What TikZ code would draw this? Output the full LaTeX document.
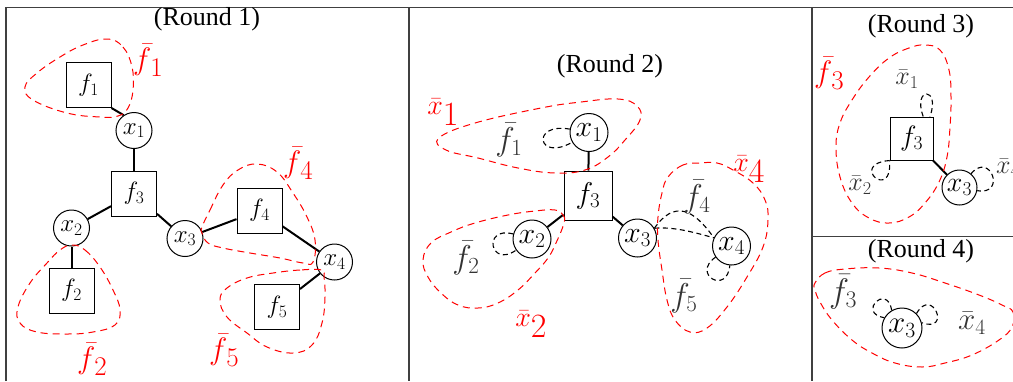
\RequirePackage{fix-cm}
\documentclass[tikz,border=0pt]{standalone}
\usepackage[no-math]{fontspec}
\setmainfont{Liberation Serif}
\newcommand\fs[1]{\fontsize{#1}{#1}\selectfont}
% red group labels: bar symbol with an oversized index
\newcommand\rf[1]{{\fs{31}$\bar{f}$}\kern-1pt\raisebox{-7pt}{\fs{27}$#1$}}
\newcommand\rx[1]{{\fs{28}$\bar{x}$}\raisebox{-11pt}{\fs{34}$#1$}}
\begin{document}
\begin{tikzpicture}[x=1pt,y=1pt,
  fac/.style={draw, line width=1pt, minimum width=45pt, minimum height=45pt, inner sep=0pt},
  var/.style={draw, circle, line width=1pt, minimum size=36pt, inner sep=0pt},
  link/.style={line width=2pt},
  grp/.style={draw=red, line width=1pt, dash pattern=on 7pt off 5pt},
  ghost/.style={draw=black, line width=1.1pt, dash pattern=on 5pt off 3.5pt},
  rlab/.style={text=red, inner sep=0pt},
  blab/.style={text=black!80, inner sep=0pt},
  ttl/.style={inner sep=0pt, font=\fs{26}},
  frame/.style={draw=black!75, line width=1.3pt},
  blob/.style={smooth cycle, tension=0.7}]

\useasboundingbox (0,0) rectangle (1013,-381);

% panel frames
\draw[frame] (6,-381) -- (6,-7.5) -- (1013,-7.5);
\draw[frame] (409,-7.5) -- (409,-381);
\draw[frame] (812,-7.5) -- (812,-381);
\draw[frame] (812,-236.7) -- (1013,-236.7);

% ---------------- Round 1 ----------------
\node[ttl] (t1) at (207,-19) {(Round 1)};
\begin{scope}[every node/.append style={font=\fs{25}}]
\node[fac] (f1) at (88.5,-85) {$f_1$};
\node[var] (x1) at (134,-130.5) {$x_1$};
\node[fac] (f3) at (134,-193.5) {$f_3$};
\node[var] (x2) at (71.5,-228) {$x_2$};
\node[fac] (f2) at (71.5,-290.5) {$f_2$};
\node[var] (x3) at (185,-238.5) {$x_3$};
\node[fac] (f4) at (259.5,-210.5) {$f_4$};
\node[var] (x4) at (334.5,-262) {$x_4$};
\node[fac] (f5) at (277,-307) {$f_5$};
\end{scope}
\draw[link] (f1.south east) -- (x1.124);
\draw[link] (x1) -- (f3);
\draw[link] (f3) -- (x2);
\draw[link] (x2) -- (f2);
\draw[link] (f3) -- (x3);
\draw[link] (x3) -- (f4);
\draw[link] (f4) -- (x4);
\draw[link] (x4) -- (f5);

\draw[grp] plot[blob] coordinates {(107,-39) (123,-47) (132,-67) (133,-90) (128,-108) (118,-116) (100,-117) (67,-113) (33,-100) (25,-87) (37,-73) (60,-57) (83,-45)};
\draw[grp] plot[blob] coordinates {(72,-245) (85,-250) (100,-267) (113,-290) (120,-310) (115,-325) (93,-332) (67,-334) (37,-332) (20,-323) (18,-307) (30,-283) (47,-263) (60,-250)};
\draw[grp] plot[blob] coordinates {(202,-227) (210,-210) (223,-185) (238,-170) (257,-164) (277,-172) (293,-193) (307,-217) (315,-240) (313,-262) (303,-263) (280,-258) (250,-253) (223,-248) (208,-243) (202,-233)};
\draw[grp] plot[blob] coordinates {(322,-270) (300,-270) (273,-273) (247,-278) (227,-288) (220,-300) (227,-317) (247,-333) (267,-347) (293,-353) (312,-345) (322,-323) (325,-297) (324,-277)};

\node[rlab] (g1) at (148,-60) {\rf{1}};
\node[rlab] (g2) at (92,-359) {\rf{2}};
\node[rlab] (g4) at (298,-163) {\rf{4}};
\node[rlab] (g5) at (224,-350) {\rf{5}};

% ---------------- Round 2 ----------------
\node[ttl] (t2) at (610,-66) {(Round 2)};
\begin{scope}[every node/.append style={font=\fs{30}}]
\node[var, minimum size=38pt] (y1) at (589,-132.5) {$x_1$};
\node[fac, minimum width=48pt, minimum height=49pt] (h3) at (588,-195.5) {$f_3$};
\node[var, minimum size=38pt] (y2) at (532,-239) {$x_2$};
\node[var, minimum size=38pt] (y3) at (637.5,-238) {$x_3$};
\node[var, minimum size=38pt] (y4) at (731.5,-246) {$x_4$};
\end{scope}
\draw[link] (y1) -- (h3);
\draw[link] (h3) -- (y2);
\draw[link] (h3) -- (y3);

\draw[ghost] (y1) to[out=170,in=210,distance=40pt] (y1);
\draw[ghost] (y2) to[out=165,in=215,distance=32pt] (y2);
\draw[ghost] (y3.30) to[out=55,in=125,distance=35pt] (y4.155);
\draw[ghost] (y3.30) to[out=5,in=165,distance=20pt] (y4.155);
\draw[ghost] (y4) to[out=215,in=265,distance=30pt] (y4);

\draw[grp] plot[blob] coordinates {(439,-138) (475,-123) (541,-108) (581,-102) (618,-99) (637,-106) (640,-120) (625,-140) (608,-157) (585,-170) (555,-173) (518,-168) (478,-158) (446,-150)};
\draw[grp] plot[blob] coordinates {(555,-210) (563,-215) (564,-223) (556,-243) (548,-258) (535,-273) (518,-290) (498,-303) (478,-308) (458,-305) (441,-293) (428,-277) (423,-260) (431,-243) (451,-232) (475,-223) (508,-215) (535,-211)};
\draw[grp] plot[blob] coordinates {(700,-163) (683,-165) (668,-177) (662,-193) (658,-217) (658,-240) (662,-270) (667,-300) (675,-320) (690,-332) (707,-328) (727,-307) (747,-277) (763,-247) (768,-220) (765,-200) (753,-183) (733,-170) (717,-163)};

\node[rlab] (r1) at (443,-112) {\rx{1}};
\node[rlab] (r2) at (531,-324) {\rx{2}};
\node[rlab] (r4) at (749,-169) {\rx{4}};
\begin{scope}[every node/.append style={font=\fs{33}}]
\node[blab] (b1) at (509,-140) {$\bar{f}_1$};
\node[blab] (b2) at (466,-258) {$\bar{f}_2$};
\node[blab] (b4) at (697,-197) {$\bar{f}_4$};
\node[blab] (b5) at (684,-296) {$\bar{f}_5$};
\end{scope}

% ---------------- Round 3 ----------------
\node[ttl] (t3) at (921,-26.5) {(Round 3)};
\begin{scope}[every node/.append style={font=\fs{28}}]
\node[fac, minimum width=43pt, minimum height=43pt] (k3) at (911.5,-138.5) {$f_3$};
\node[var, minimum size=35pt] (z3) at (959.5,-187.5) {$x_3$};
\end{scope}
\draw[link] (k3) -- (z3);
\draw[ghost] (k3.62) to[out=110,in=70,distance=32pt] (k3.50);
\draw[ghost] (k3.south west) to[out=185,in=275,distance=42pt] (k3.south west);
\draw[ghost] (z3) to[out=50,in=-10,distance=30pt] (z3);

\draw[grp] plot[blob] coordinates {(925,-45) (909,-48) (889,-58) (869,-77) (852,-100) (840,-123) (836,-147) (840,-177) (852,-203) (869,-218) (889,-223) (909,-217) (925,-203) (939,-182) (947,-157) (950,-127) (951,-97) (949,-70) (940,-50)};

\node[rlab] (r3) at (829,-73) {\rf{3}};
\begin{scope}[every node/.append style={font=\fs{26}}]
\node[blab] (c1) at (907,-79) {$\bar{x}_1$};
\node[blab] (c2) at (860,-185) {$\bar{x}_2$};
\node[blab, anchor=base west] (c4) at (996,-173) {$\bar{x}_4$};
\end{scope}

% ---------------- Round 4 ----------------
\node[ttl] (t4) at (921,-251) {(Round 4)};
\node[var, minimum size=40pt, font=\fs{31}] (w3) at (902,-328) {$x_3$};
\draw[ghost] (w3.120) to[out=100,in=170,distance=28pt] (w3.150);
\draw[ghost] (w3.45) to[out=60,in=-20,distance=32pt] (w3.15);

\draw[grp] plot[blob] coordinates {(815,-283) (825,-273) (845,-269) (879,-268) (912,-273) (945,-283) (979,-295) (1002,-305) (1013,-312) (1012,-327) (999,-340) (972,-355) (945,-363) (922,-367) (895,-363) (872,-353) (852,-340) (832,-320) (820,-302) (815,-290)};

\node[blab, font=\fs{34}] (d3) at (843,-292) {$\bar{f}_3$};
\node[blab, font=\fs{31}] (d4) at (972,-323) {$\bar{x}_4$};
\end{tikzpicture}
\end{document}
